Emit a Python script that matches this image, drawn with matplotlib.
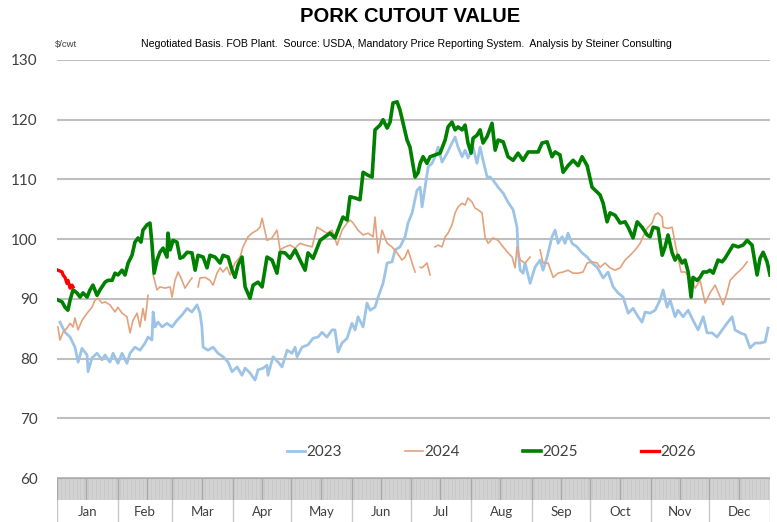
import numpy as np
import matplotlib
matplotlib.use('Agg')
import matplotlib.pyplot as plt

plt.rcParams['font.family'] = ['Liberation Sans', 'DejaVu Sans']

nan = np.nan

# day of year / $ per cwt
days_2023 = [1.5, 4.1, 6.7, 9.2, 10.8, 12.8, 15.4, 15.9, 17.9, 20.5, 23.0, 24.6, 27.1, 28.7, 31.2, 33.3,
             35.8, 37.4, 39.9, 42.5, 45.1, 46.6, 48.6, 49.2, 50.2, 51.7, 53.8, 56.3, 58.9, 61.4, 64.0,
             66.6, 69.1, 71.7, 73.2, 74.2, 74.8, 77.3, 79.9, 82.4, 85.0, 87.6, 89.6, 92.2, 94.7, 96.3,
             98.8, 101.4, 102.9, 105.5, 107.5, 108.0, 110.6, 113.2, 115.2, 117.8, 120.3, 121.9, 122.9,
             125.4, 128.5, 131.1, 133.6, 135.7, 138.2, 140.8, 142.3, 143.9, 145.9, 148.5, 151.0, 152.6,
             154.1, 156.7, 158.7, 160.3, 162.8, 164.4, 166.9, 169.0, 171.5, 173.1, 175.6, 178.2, 179.7,
             181.8, 184.3, 185.9, 186.9, 188.4, 190.0, 192.0, 193.5, 195.1, 197.1, 199.7, 202.2, 203.8,
             205.3, 207.4, 208.9, 210.4, 213.0, 215.0, 216.6, 218.1, 220.2, 221.7, 223.2, 225.8, 228.4,
             230.9, 233.5, 235.5, 236.0, 237.1, 238.6, 239.6, 242.2, 244.7, 247.3, 248.8, 250.9, 253.4,
             255.0, 256.5, 258.6, 260.1, 261.6, 263.7, 266.2, 268.8, 271.4, 273.9, 276.5, 279.6, 282.1,
             284.7, 287.2, 289.8, 292.4, 294.9, 297.5, 299.5, 301.1, 303.6, 306.2, 308.7, 310.3, 312.3,
             313.9, 316.4, 317.9, 320.5, 323.1, 325.6, 328.2, 330.8, 332.8, 335.4, 337.9, 340.5, 343.0,
             345.6, 347.1, 349.7, 352.3, 354.8, 357.4, 359.9, 362.5, 364.0]
vals_2023 = [86.1, 84.4, 83.6, 81.9, 79.4, 81.7, 80.6, 77.8, 80.1, 80.9, 79.8, 80.6, 79.4, 80.9, 79.2, 80.9,
             79.2, 80.9, 81.9, 81.4, 82.6, 83.6, 83.1, 87.8, 85.3, 86.1, 85.3, 85.9, 85.3, 86.4, 87.3,
             88.4, 87.8, 89.0, 87.6, 85.3, 81.9, 81.4, 81.9, 80.9, 80.3, 79.4, 77.8, 78.6, 77.2, 78.4,
             77.6, 76.4, 78.1, 78.4, 78.9, 77.2, 80.3, 79.4, 78.6, 81.4, 80.9, 81.9, 80.3,
             81.9, 82.3, 83.4, 83.6, 84.4, 83.6, 84.8, 84.8, 81.1, 82.6, 83.4, 85.9, 84.8,
             87.0, 85.3, 89.3, 88.1, 88.6, 90.3, 92.6, 96.0, 96.2, 98.2, 98.7, 100.4, 102.7,
             104.4, 108.2, 108.7, 105.4, 108.7, 112.1, 112.7, 113.8, 115.4, 112.9, 114.4, 116.1, 117.1,
             115.4, 113.8, 114.9, 113.6, 115.4, 112.7, 115.4, 113.2, 110.4, 110.4, 109.9, 108.7, 107.7,
             106.2, 104.9, 102.0, 98.2, 94.8, 94.3, 96.0, 92.6, 95.3, 96.5, 94.8, 97.0, 100.4,
             101.5, 99.3, 100.4, 99.3, 101.0, 99.3, 98.7, 97.7, 97.0, 96.0, 95.3, 93.5, 94.5,
             92.0, 91.0, 90.3, 87.6, 88.4, 87.0, 86.1, 87.8, 87.6, 88.1, 89.8, 91.5, 88.6,
             89.8, 87.0, 88.1, 87.0, 88.1, 86.4, 84.8, 87.0, 84.3, 84.3, 83.6, 84.8, 85.9,
             87.0, 84.8, 84.3, 84.0, 81.8, 82.6, 82.6, 82.8, 85.1]

days_2024 = [0.5, 1.5, 3.1, 5.1, 6.7, 8.2, 9.2, 10.8, 12.8, 15.4, 17.9, 19.5, 21.0, 23.0, 24.6, 27.1, 29.7,
             31.2, 33.3, 35.8, 37.4, 38.9, 41.0, 42.5, 44.0, 45.1, 46.6, nan,
             49.2, 51.2, 52.7, 55.3, 57.9, 58.9, 60.4, 62.0, 64.0, 65.5, 67.1, 69.1, nan,
             72.2, 73.2, 75.8, 78.3, 79.9, 81.9, 83.5, 85.0, 87.0, 88.6, 91.1, 93.7, 95.2, 97.8, 99.8,
             102.4, 103.9, 105.0, 107.5, 110.1, 112.6, 114.2, 116.7, 119.3, 121.9, 124.4, 127.0, 130.6,
             133.1, 135.7, 138.2, 140.8, 143.4, 145.9, 148.5, 150.0, 151.6, 154.1, 156.7, 159.2, 161.8,
             162.8, 164.4, 166.4, 169.0, 171.5, 174.1, 176.6, 178.2, 179.7, 181.8, 183.3, nan,
             185.9, 186.9, 189.4, 191.0, nan,
             193.5, 195.1, 197.1, 198.7, 200.2, 202.2, 203.8, 205.3, 207.4, 208.9, 210.4, 212.5, 214.0,
             215.6, 217.6, 219.1, 220.7, 223.2, 225.8, 228.4, 230.9, 233.0, 234.5, 235.5, 237.1, 239.6,
             242.2, nan,
             247.3, 248.8, 251.4, 254.0, 256.5, 259.1, 261.6, 264.2, 266.8, 269.3, 271.4, 273.9, 276.5,
             278.0, 280.6, 283.1, 285.7, 288.3, 290.8, 293.4, 296.0, 298.5, 300.0, 302.1, 304.6, 306.2,
             307.7, 309.8, 310.3, 312.8, 314.9, 316.4, 317.9, 319.5, 321.5, 324.1, 326.7, 329.2, 331.8,
             334.3, 336.9, 339.5, 341.0, 343.0, 344.6, 347.1, 349.7, 351.2, 353.3]
vals_2024 = [85.3, 83.1, 84.4, 85.1, 85.9, 85.3, 86.8, 84.8, 86.4, 87.6, 88.6, 89.8, 90.1, 89.3, 89.5, 89.0, 87.8,
             88.6, 87.6, 87.0, 84.3, 86.4, 87.6, 85.3, 88.4, 86.4, 90.6, nan,
             94.0, 91.5, 92.0, 91.8, 92.0, 90.3, 93.1, 94.5, 93.1, 91.8, 92.6, 93.5, nan,
             92.0, 93.5, 93.6, 93.1, 92.3, 94.3, 95.2, 94.5, 95.3, 94.0, 96.0, 97.0, 98.7, 100.4, 101.0,
             101.5, 102.0, 103.5, 99.8, 100.2, 101.5, 98.2, 98.7, 99.0, 98.5, 99.3, 99.0, 98.7,
             102.0, 101.5, 101.0, 101.5, 99.0, 101.5, 102.7, 103.2, 102.7, 101.5, 100.7, 101.0, 100.4,
             103.7, 97.7, 101.5, 99.3, 98.7, 97.7, 96.5, 97.0, 98.2, 96.0, 94.5, nan,
             95.3, 95.2, 96.0, 94.0, nan,
             98.7, 99.0, 98.7, 100.4, 101.0, 102.4, 104.4, 105.4, 106.0, 105.7, 106.9, 106.2, 105.2,
             104.9, 104.4, 100.4, 99.3, 100.2, 99.8, 98.7, 97.7, 97.0, 95.2, 98.7, 96.5, 96.0,
             97.0, nan,
             98.2, 96.0, 96.0, 93.6, 94.3, 94.5, 94.8, 94.3, 94.3, 94.5, 96.0, 96.2, 96.0,
             95.3, 96.0, 95.2, 94.8, 95.2, 96.5, 97.3, 98.2, 99.3, 100.4, 101.8, 102.7, 104.1,
             104.4, 103.7, 102.0, 101.8, 102.0, 99.3, 97.0, 94.5, 94.5, 93.6, 91.8, 93.1, 89.3,
             91.0, 92.3, 90.3, 89.0, 91.0, 93.1, 94.0, 94.8, 95.3, 96.2]

days_2025 = [0.5, 2.6, 4.1, 5.6, 6.7, 8.2, 10.2, 11.8, 13.3, 15.4, 16.9, 18.4, 20.5, 22.0, 24.6, 26.1, 28.2,
             29.7, 31.2, 33.3, 34.8, 36.4, 38.4, 39.9, 41.5, 43.0, 44.0, 46.1, 47.6, 48.6, 49.7, 51.2,
             52.7, 54.3, 56.3, 56.8, 57.9, 59.4, 61.4, 63.0, 64.5, 66.6, 69.1, 70.7, 72.2, 74.8, 76.8,
             78.3, 80.9, 83.5, 85.0, 87.6, 89.6, 91.1, 92.7, 94.7, 96.3, 98.8, 100.4, 102.9, 105.0,
             107.5, 110.1, 112.6, 114.2, 116.7, 119.3, 121.9, 124.4, 127.0, 128.5, 131.1, 134.7, 137.2,
             139.8, 142.3, 144.9, 146.4, 148.5, 150.0, 152.6, 155.1, 156.7, 159.2, 161.3, 162.8, 165.4,
             166.9, 169.0, 170.5, 172.0, 174.1, 175.6, 177.2, 179.2, 180.7, 183.3, 184.8, 185.9, 187.4,
             189.4, 191.0, 193.5, 196.1, 198.7, 200.2, 202.2, 203.8, 205.3, 207.4, 208.9, 210.4, 212.0,
             213.0, 215.0, 216.6, 218.1, 220.2, 222.7, 224.3, 225.8, 228.4, 230.9, 233.5, 236.0, 238.6,
             241.2, 243.7, 246.3, 248.3, 250.9, 253.4, 255.0, 257.5, 259.1, 261.6, 264.2, 266.8, 268.8,
             271.4, 273.9, 275.5, 278.0, 279.6, 281.6, 283.1, 285.7, 288.3, 290.8, 292.4, 294.9, 297.0,
             299.5, 302.1, 303.6, 305.2, 307.7, 309.8, 311.3, 312.8, 314.9, 316.4, 317.9, 320.0, 321.5,
             323.1, 324.6, 325.6, 327.7, 329.2, 330.8, 332.8, 334.3, 335.9, 338.4, 340.5, 342.0, 344.6,
             346.1, 348.7, 351.2, 353.3, 355.8, 358.4, 359.9, 361.5, 363.5, 365.0]
vals_2025 = [89.8, 89.5, 88.6, 88.1, 89.8, 91.5, 91.0, 90.3, 91.0, 90.3, 91.5, 92.3, 90.6, 91.5, 92.8, 93.1, 93.1,
             94.3, 94.0, 94.8, 94.0, 96.0, 97.3, 99.5, 100.2, 99.5, 101.5, 102.4, 102.7, 99.3, 94.3, 96.5,
             97.8, 98.5, 97.0, 101.0, 98.2, 99.8, 99.5, 96.8, 97.0, 97.8, 97.7, 94.8, 97.3, 97.0, 95.2,
             97.3, 97.0, 96.0, 97.3, 97.0, 94.8, 93.6, 95.7, 97.0, 92.0, 90.1, 92.3, 92.8, 92.0,
             97.0, 96.5, 94.3, 97.8, 97.7, 96.8, 98.2, 96.5, 94.8, 97.7, 96.8, 99.8, 100.4,
             101.0, 100.2, 102.4, 103.7, 103.2, 107.1, 106.9, 106.6, 111.2, 110.7, 110.4, 118.3, 119.1,
             120.0, 118.6, 119.6, 122.8, 123.0, 121.6, 119.4, 116.6, 115.4, 110.4, 111.1, 112.7, 113.8,
             112.7, 113.8, 114.1, 114.4, 116.6, 118.8, 119.6, 118.3, 118.8, 118.3, 119.1, 116.1, 114.4,
             116.9, 117.4, 118.3, 116.1, 117.2, 119.4, 114.9, 116.6, 116.3, 113.8, 113.2, 114.4, 113.2,
             114.6, 114.6, 114.6, 116.1, 116.3, 113.8, 114.6, 114.1, 111.2, 112.3, 113.2, 112.3, 113.8,
             112.3, 108.7, 108.2, 107.4, 106.0, 102.9, 104.4, 104.0, 102.7, 102.9, 102.0, 100.2, 102.9,
             102.0, 100.7, 100.4, 102.0, 101.8, 97.3, 98.7, 100.7, 97.7, 96.5, 97.3, 96.0, 96.5,
             94.5, 90.3, 93.6, 93.1, 93.6, 94.5, 94.5, 94.8, 94.3, 96.5, 96.2, 96.8, 98.2,
             99.0, 98.7, 99.0, 99.8, 99.0, 94.0, 96.8, 97.8, 96.2, 94.0]

days_2026 = [0.5, 2.6, 3.1, 4.1, 5.1, 5.6, 6.7, 7.7, 8.2]
vals_2026 = [94.8, 94.5, 94.0, 93.6, 92.6, 93.1, 91.8, 92.3, 92.0]

months = ['Jan', 'Feb', 'Mar', 'Apr', 'May', 'Jun', 'Jul', 'Aug', 'Sep', 'Oct', 'Nov', 'Dec']
month_starts = [0, 31, 59, 90, 120, 151, 181, 212, 243, 273, 304, 334, 365]

label_font = ['Lato', 'DejaVu Sans']
dark = '#404040'

W, H = 777, 522
fig = plt.figure(figsize=(W / 100, H / 100), dpi=100)
L, R, T, B = 57, 770, 60, 478
ax = fig.add_axes([L / W, 1 - B / H, (R - L) / W, (B - T) / H])

ax.plot(days_2023, vals_2023, color='#9DC3E6', lw=2.0, label='2023')
ax.plot(days_2024, vals_2024, color='#E3A27C', lw=1.2, label='2024')
ax.plot(days_2025, vals_2025, color='#008000', lw=2.6, label='2025')
ax.plot(days_2026, vals_2026, color='#FF0000', lw=2.4, label='2026')

ax.set_xlim(0, 365)
ax.set_ylim(60, 130)
ax.set_yticks(range(60, 131, 10))
ax.set_xticks([])
ax.grid(axis='y', color='#BFBFBF', lw=1.5)
ax.set_axisbelow(True)
for s in ax.spines.values():
    s.set_visible(False)
ax.tick_params(axis='y', length=0, pad=14, labelsize=11, labelcolor=dark)
for t in ax.get_yticklabels():
    t.set_family(label_font)

leg = ax.legend(loc='center left', bbox_to_anchor=(0.303, 0.062), ncol=4, frameon=False,
                prop={'family': label_font, 'size': 11}, handlelength=1.2,
                handletextpad=0.05, columnspacing=4.15)
for t in leg.get_texts():
    t.set_color(dark)

# gray date band under the plot
band = fig.add_axes([L / W, 1 - 500 / H, (R - L) / W, 22 / H])
band.set_facecolor('#D2D2D2')
band.set_xlim(0, 365)
band.set_ylim(0, 1)
for d in range(0, 366, 2):
    band.axvline(d, color='#C2C2C2', lw=0.4)
for m in month_starts[:-1]:
    band.axvline(m, color='#A8A8A8', lw=1.0)
    band.axvline(m + 15, color='#A8A8A8', lw=1.0)
band.axhline(1, color='#A8A8A8', lw=1.5)
band.set_xticks([])
band.set_yticks([])
for s in band.spines.values():
    s.set_visible(False)

# month label row
mrow = fig.add_axes([L / W, 0, (R - L) / W, 22 / H])
mrow.set_xlim(0, 365)
mrow.set_ylim(0, 1)
for m in month_starts:
    mrow.axvline(m, color='#C8C8C8', lw=1.0)
for i, name in enumerate(months):
    mid = (month_starts[i] + month_starts[i + 1]) / 2
    mrow.text(mid, 0.45, name, ha='center', va='center', fontsize=9.5, color=dark, family=label_font)
mrow.set_xticks([])
mrow.set_yticks([])
for s in mrow.spines.values():
    s.set_visible(False)

fig.text(410 / W, 1 - 17 / H, 'PORK CUTOUT VALUE', ha='center', va='center',
         fontsize=14.5, fontweight='bold')
fig.text(55 / W, 1 - 44 / H, '$/cwt', ha='left', va='center', fontsize=6.8, color=dark)
fig.text(406 / W, 1 - 44 / H,
         'Negotiated Basis. FOB Plant.  Source: USDA, Mandatory Price Reporting System.  Analysis by Steiner Consulting',
         ha='center', va='center', fontsize=7.6)

fig.savefig('out.png', dpi=100)
